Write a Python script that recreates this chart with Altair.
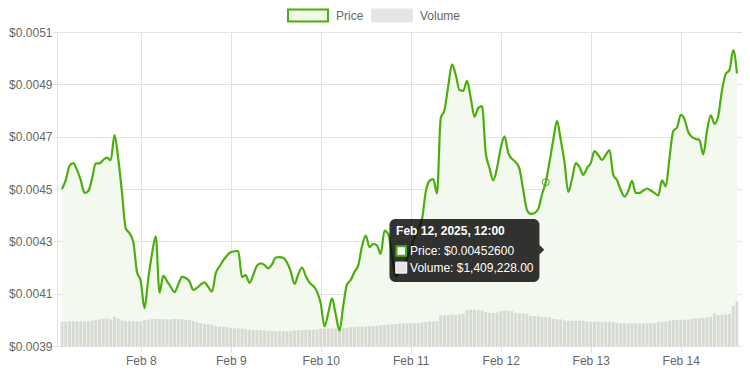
import altair as alt
import pandas as pd

# ---------------- data ----------------
START = "2025-02-07 03:00"          # first hourly sample
price = [
    0.004500, 0.004534, 0.004588, 0.004599, 0.004573, 0.004534, 0.004485, 0.004492, 0.004539, 0.004598,
    0.004598, 0.004611, 0.004620, 0.004610, 0.004706, 0.004616, 0.004485, 0.004349, 0.004331, 0.004298,
    0.004183, 0.004148, 0.004045, 0.004157, 0.004252, 0.004319, 0.004104, 0.004168, 0.004148, 0.004126,
    0.004106, 0.004135, 0.004164, 0.004160, 0.004147, 0.004114, 0.004122, 0.004135, 0.004143, 0.004126,
    0.004108, 0.004178, 0.004204, 0.004227, 0.004246, 0.004258, 0.004262, 0.004263, 0.004163, 0.004171,
    0.004141, 0.004172, 0.004207, 0.004216, 0.004210, 0.004197, 0.004212, 0.004238, 0.004240, 0.004237,
    0.004219, 0.004185, 0.004137, 0.004174, 0.004200, 0.004168, 0.004142, 0.004129, 0.004108, 0.004062,
    0.003975, 0.004026, 0.004082, 0.004020, 0.003959, 0.004054, 0.004135, 0.004152, 0.004184, 0.004208,
    0.004281, 0.004322, 0.004278, 0.004290, 0.004284, 0.004252, 0.004341, 0.004328, 0.004248, 0.004166,
    0.004183, 0.004206, 0.004236, 0.004275, 0.004313, 0.004351, 0.004385, 0.004489, 0.004531, 0.004538,
    0.004483, 0.004771, 0.004802, 0.004894, 0.004976, 0.004936, 0.004878, 0.004875, 0.004913, 0.004848,
    0.004776, 0.004810, 0.004817, 0.004638, 0.004580, 0.004533, 0.004580, 0.004657, 0.004701, 0.004638,
    0.004615, 0.004603, 0.004577, 0.004496, 0.004420, 0.004405, 0.004408, 0.004424, 0.004479, 0.004526,
    0.004603, 0.004687, 0.004760, 0.004687, 0.004603, 0.004489, 0.004538, 0.004599, 0.004584, 0.004554,
    0.004580, 0.004599, 0.004645, 0.004630, 0.004611, 0.004630, 0.004649, 0.004554, 0.004534, 0.004496,
    0.004471, 0.004492, 0.004531, 0.004485, 0.004485, 0.004494, 0.004502, 0.004494, 0.004485, 0.004475,
    0.004533, 0.004510, 0.004619, 0.004722, 0.004735, 0.004783, 0.004766, 0.004718, 0.004699, 0.004691,
    0.004687, 0.004632, 0.004722, 0.004781, 0.004749, 0.004779, 0.004878, 0.004940, 0.004955, 0.005031,
    0.004942,
]
volume_musd = [
    1.19, 1.20, 1.21, 1.20, 1.20, 1.20, 1.19, 1.21, 1.24, 1.27,
    1.31, 1.34, 1.35, 1.30, 1.44, 1.33, 1.25, 1.22, 1.22, 1.21,
    1.21, 1.19, 1.27, 1.29, 1.31, 1.33, 1.32, 1.31, 1.31, 1.31,
    1.33, 1.33, 1.31, 1.29, 1.26, 1.22, 1.18, 1.12, 1.08, 1.06,
    1.05, 0.98, 0.96, 0.95, 0.94, 0.88, 0.87, 0.86, 0.85, 0.82,
    0.80, 0.79, 0.78, 0.77, 0.75, 0.74, 0.74, 0.73, 0.74, 0.74,
    0.73, 0.74, 0.76, 0.77, 0.78, 0.79, 0.79, 0.80, 0.80, 0.84,
    0.85, 0.86, 0.86, 0.87, 0.87, 0.88, 0.89, 0.93, 0.94, 0.95,
    0.95, 0.96, 0.97, 0.97, 0.99, 1.02, 1.03, 1.05, 1.06, 1.08,
    1.11, 1.11, 1.10, 1.12, 1.11, 1.12, 1.16, 1.19, 1.20, 1.19,
    1.21, 1.50, 1.53, 1.52, 1.54, 1.52, 1.55, 1.58, 1.76, 1.78,
    1.77, 1.76, 1.74, 1.66, 1.63, 1.62, 1.64, 1.72, 1.74, 1.73,
    1.71, 1.62, 1.60, 1.59, 1.58, 1.48, 1.47, 1.46, 1.42, 1.409228,
    1.40, 1.33, 1.31, 1.30, 1.25, 1.24, 1.24, 1.23, 1.24, 1.22,
    1.20, 1.19, 1.19, 1.20, 1.18, 1.19, 1.19, 1.17, 1.12, 1.11,
    1.11, 1.10, 1.11, 1.11, 1.10, 1.11, 1.11, 1.12, 1.12, 1.18,
    1.19, 1.20, 1.24, 1.26, 1.27, 1.28, 1.29, 1.30, 1.34, 1.35,
    1.36, 1.38, 1.40, 1.44, 1.60, 1.52, 1.54, 1.55, 1.57, 1.96,
    2.18,
]
y_ticks = [0.0039, 0.0041, 0.0043, 0.0045, 0.0047, 0.0049, 0.0051]
x_tick_days = [8, 9, 10, 11, 12, 13, 14]
series_names = ["Price", "Volume"]
hover_index = 129            # Feb 12, 2025, 12:00

assert len(price) == len(volume_musd)

# ---------------- styling ----------------
LINE = "#4cae0e"
AREA = "#f3f9ee"
BAR = "#c0c0c0"
GRID = "#e2e2e2"
TEXT = "#666666"
FONT = "Liberation Sans"
V_MAX = 15.4e6               # hidden volume axis maximum

times = pd.date_range(START, periods=len(price), freq="h")
volume = [round(v * 1e6) for v in volume_musd]
df = pd.DataFrame({
    "time": times.strftime("%Y-%m-%dT%H:%M:%S"),
    "price": price,
    "volume": volume,
})

P_MIN, P_MAX = y_ticks[0], y_ticks[-1]


def dt(t):
    return alt.DateTime(year=t.year, month=t.month, date=t.day, hours=t.hour)


x_axis = alt.Axis(
    values=[alt.DateTime(year=2025, month=2, date=d) for d in x_tick_days],
    format="%b %-d", labelFont=FONT, labelFontSize=12, labelColor=TEXT,
    tickColor=GRID, tickSize=6, labelPadding=3, gridColor=GRID, domainColor=GRID,
    labelOverlap=False, labelFlush=False, title=None,
)
x_enc = alt.X("time:T", scale=alt.Scale(domain=[dt(times[0]), dt(times[-1])]), axis=x_axis)
y_scale = alt.Scale(domain=[P_MIN, P_MAX], zero=False, nice=False)
y_axis = alt.Axis(
    values=y_ticks, format="$.4f", labelFont=FONT, labelFontSize=12, labelColor=TEXT,
    tickColor=GRID, tickSize=4, labelPadding=1, gridColor=GRID, domainColor=GRID, title=None,
)

base = alt.Chart(df)

area = base.mark_area(color=AREA, interpolate="monotone", clip=True).encode(
    x=x_enc,
    y=alt.Y("price:Q", scale=y_scale, axis=y_axis),
    y2=alt.datum(P_MIN),
)

bars = base.mark_bar(color=BAR, opacity=0.55, size=2.9, clip=True).encode(
    x=x_enc,
    y=alt.Y("volume:Q", scale=alt.Scale(domain=[0, V_MAX]), axis=None),
)

line = base.mark_line(color=LINE, strokeWidth=2.2, interpolate="monotone", clip=True).encode(
    x=x_enc,
    y=alt.Y("price:Q", scale=y_scale, axis=None),
)

# ---------------- hover tooltip (anchored on the hovered sample) ----------------
ht = times[hover_index]
hp = price[hover_index]
hv = volume[hover_index]
vol_as_price = P_MIN + hv / V_MAX * (P_MAX - P_MIN)
tip = pd.DataFrame({
    "time": [ht.strftime("%Y-%m-%dT%H:%M:%S")],
    "price": [hp],
    "anchor": [(hp + vol_as_price) / 2],
    "title": [f"{ht:%b} {ht.day}, {ht.year}, {ht:%H:%M}"],
    "l1": [f"Price: ${hp:.8f}"],
    "l2": [f"Volume: ${hv:,.2f}"],
})
tbase = alt.Chart(tip)
ya = alt.Y("anchor:Q", scale=y_scale, axis=None)

hover = tbase.mark_point(shape="circle", size=50, filled=False, color=LINE,
                         strokeWidth=1, opacity=1).encode(
    x=x_enc, y=alt.Y("price:Q", scale=y_scale, axis=None))

BOX_PATH = ("M-0.92,-0.42H0.92A0.08,0.08 0 0 1 1,-0.34V0.34A0.08,0.08 0 0 1 0.92,0.42"
            "H-0.92A0.08,0.08 0 0 1 -1,0.34V-0.34A0.08,0.08 0 0 1 -0.92,-0.42Z")
box = tbase.mark_point(shape=BOX_PATH, size=22500, filled=True, color="#000000",
                       opacity=0.8, strokeWidth=0, xOffset=-81.3, yOffset=0.7).encode(x=x_enc, y=ya)
caret = tbase.mark_point(shape="M0,-1L1,0L0,1Z", size=100, filled=True, color="#000000",
                         opacity=0.8, strokeWidth=0, xOffset=-6.5).encode(x=x_enc, y=ya)
sw_price = tbase.mark_point(shape="square", size=90, filled=True, fill="#ffffff", stroke=LINE,
                            strokeWidth=2, opacity=1, xOffset=-144.5, yOffset=1.2).encode(x=x_enc, y=ya)
sw_vol = tbase.mark_point(shape="square", size=121, filled=True, fill="#e5e5e5", stroke="#ffffff",
                          strokeWidth=1, opacity=1, xOffset=-144.5, yOffset=17.9).encode(x=x_enc, y=ya)
t_title = tbase.mark_text(align="left", baseline="alphabetic", font=FONT, fontSize=12,
                          fontWeight="bold", color="#ffffff", dx=-149.7, dy=-14.6).encode(
    x=x_enc, y=ya, text="title:N")
t_l1 = tbase.mark_text(align="left", baseline="alphabetic", font=FONT, fontSize=12,
                       color="#ffffff", dx=-135.7, dy=5.4).encode(x=x_enc, y=ya, text="l1:N")
t_l2 = tbase.mark_text(align="left", baseline="alphabetic", font=FONT, fontSize=12,
                       color="#ffffff", dx=-135.7, dy=22.1).encode(x=x_enc, y=ya, text="l2:N")

# ---------------- legend ----------------
LEG_PATH = "M-1,-0.3H1V0.3H-1Z"
leg = alt.Legend(
    title=None, orient="none", legendX=230, legendY=-37.5, direction="horizontal",
    symbolType=LEG_PATH, symbolSize=1600, symbolStrokeWidth=2,
    labelFont=FONT, labelFontSize=12, labelColor=TEXT, labelOffset=7,
    columnPadding=4, padding=0,
)
legend_df = pd.DataFrame({"series": series_names})
legend_layer = alt.Chart(legend_df).mark_point(shape=LEG_PATH, filled=True, opacity=1).encode(
    fill=alt.Fill("series:N", scale=alt.Scale(domain=series_names, range=["#f0f8ea", "#e5e5e5"]), legend=leg),
    stroke=alt.Stroke("series:N", scale=alt.Scale(domain=series_names, range=[LINE, "#e5e5e5"]), legend=leg),
).transform_filter("false")

overlay = alt.layer(line, hover, box, caret, sw_price, sw_vol, t_title, t_l1, t_l2, legend_layer)

# whole page must stay inside 750x375 including the 8px body margin
chart = alt.layer(area, bars, overlay).resolve_scale(y="independent").properties(
    width=685, height=314,
    autosize=alt.AutoSizeParams(type="none"),
    padding={"left": 49, "top": 24, "right": 0, "bottom": 21},
).configure_view(stroke=None)

chart.save("out.html", embed_options={"renderer": "svg", "actions": False})
